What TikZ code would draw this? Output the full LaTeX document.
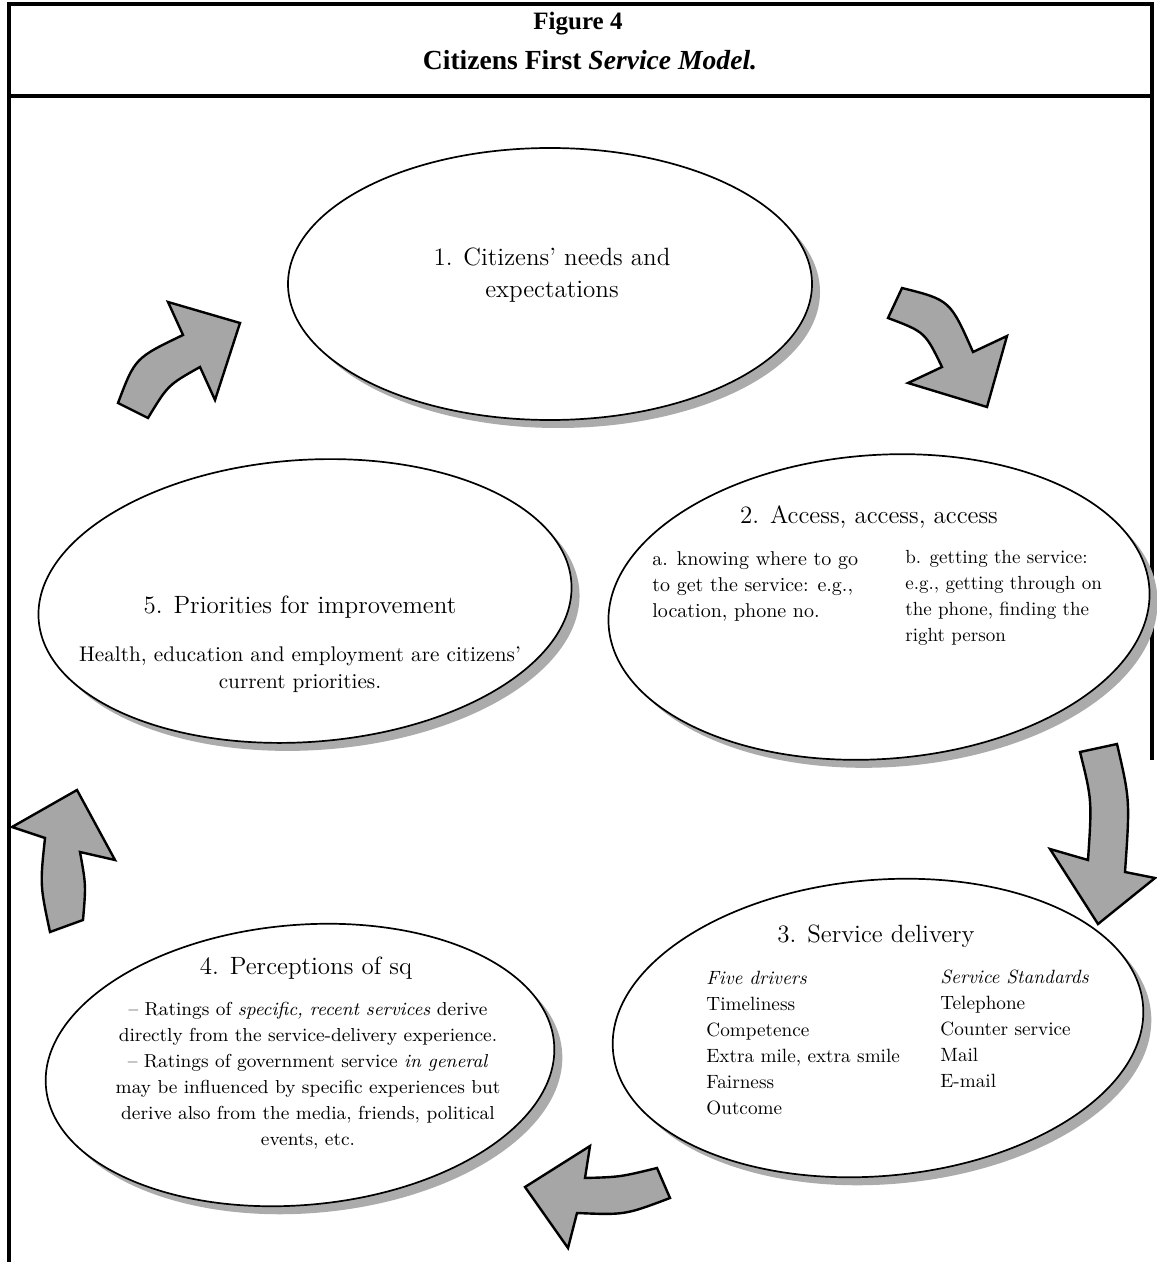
\documentclass[tikz,border=0pt]{standalone}
\usepackage{fontspec}
\newfontfamily\headfont{Liberation Serif}
\usepackage{tikz}
\usetikzlibrary{shapes}
\tikzset{
	stage/.style = {ellipse, draw=black, line width=0.85pt, fill=white,
		inner sep=0pt},% white ellipse of one stage
	stageshadow/.style = {ellipse, draw=none, fill=black!33, inner sep=0pt},% grey shadow
	stagetitle/.style = {inner sep=0pt, font=\fontsize{12.5}{16}\selectfont},
	stagetext/.style = {inner sep=0pt, align=left,
		font=\fontsize{10}{13}\selectfont},
	headtext/.style = {inner sep=0pt, font=\headfont\fontsize{12.5}{15}\selectfont\bfseries},
	bigarrow/.style = {fill=black!35, draw=black, line width=1.2pt,
		line join=miter},% fat grey arrow
	frame/.style = {line width=1.8pt}
}

\begin{document}
\begin{tikzpicture}[x=0.5pt,y=-0.5pt]
	\useasboundingbox (0,0) rectangle (1156,1262);
	\draw[frame] (9,1262) -- (9,4) -- (1152,4) -- (1152,760);
	\draw[frame] (9,96) -- (1152,96);
	\node[headtext] (fig) at (578,24) {Figure 4};
	\node[headtext, font=\headfont\fontsize{13.8}{16}\selectfont\bfseries] (caption) at (590,60) {Citizens First \textit{Service Model.}};

	\node[stageshadow, minimum width=262pt, minimum height=136pt] (s1) at (558,292) {};
	\node[stage, minimum width=262pt, minimum height=136pt] (e1) at (550,284) {};
	\node[stageshadow, rotate=4, minimum width=271pt, minimum height=152pt] (s2) at (887,615) {};
	\node[stage, rotate=4, minimum width=271pt, minimum height=152pt] (e2) at (879,607) {};
	\node[stageshadow, rotate=5, minimum width=266pt, minimum height=148pt] (s3) at (886,1036) {};
	\node[stage, rotate=5, minimum width=266pt, minimum height=148pt] (e3) at (878,1028) {};
	\node[stageshadow, rotate=5, minimum width=255pt, minimum height=140pt] (s4) at (308,1073) {};
	\node[stage, rotate=5, minimum width=255pt, minimum height=140pt] (e4) at (300,1065) {};
	\node[stageshadow, rotate=4, minimum width=267pt, minimum height=141pt] (s5) at (313,609) {};
	\node[stage, rotate=4, minimum width=267pt, minimum height=141pt] (e5) at (305,601) {};

	\node[stagetitle, align=center] (t1) at (552,275) {1. Citizens' needs and\\expectations};

	\node[stagetitle] (h2) at (869,517) {2. Access, access, access};
	\node[stagetext, anchor=north west] (a2) at (652,551) {a. knowing where to go\\to get the service: e.g.,\\location, phone no.};
	\node[stagetext, anchor=north west, font=\fontsize{9.5}{13}\selectfont] (b2) at (905,550) {b. getting the service:\\e.g., getting through on\\the phone, finding the\\right person};

	\node[stagetitle] (h3) at (876,936) {3. Service delivery};
	\node[stagetext, anchor=north west, font=\fontsize{9.6}{13}\selectfont] (d3) at (706,971) {\textit{Five drivers}\\Timeliness\\Competence\\Extra mile, extra smile\\Fairness\\Outcome};
	\node[stagetext, anchor=north west, font=\fontsize{9.6}{13}\selectfont] (n3) at (940,970) {\textit{Service Standards}\\Telephone\\Counter service\\Mail\\E-mail};

	\node[stagetitle] (h4) at (306,968) {4. Perceptions of sq};
	\node[stagetext, align=center, anchor=north, font=\fontsize{9.4}{13}\selectfont] (b4) at (308,1002) {-- Ratings of \textit{specific, recent services} derive\\directly from the service-delivery experience.\\-- Ratings of government service \textit{in general}\\may be influenced by specific experiences but\\derive also from the media, friends, political\\events, etc.};

	\node[stagetitle] (h5) at (300,607) {5. Priorities for improvement};
	\node[stagetext, align=center, anchor=north, font=\fontsize{10.6}{13.5}\selectfont] (b5) at (300,646) {Health, education and employment are citizens'\\current priorities.};

	\filldraw[bigarrow] (118,403) .. controls (135,358) .. (183,335) -- (168,302) -- (240,323) -- (215,400) -- (200,367) .. controls (168,385) .. (148,418) -- cycle;
	\filldraw[bigarrow] (902,288) .. controls (950,300) .. (973,352) -- (1007,336) -- (987,407) -- (908,383) -- (942,367) .. controls (925,332) .. (888,318) -- cycle;
	\filldraw[bigarrow] (1080,752) .. controls (1092,800) .. (1088,860) -- (1050,849) -- (1098,924) -- (1155,878) -- (1125,872) .. controls (1130,800) .. (1117,744) -- cycle;
	\filldraw[bigarrow] (657,1168) .. controls (620,1177) .. (585,1178) -- (590,1146) -- (525,1187) -- (568,1248) -- (577,1213) .. controls (625,1215) .. (670,1198) -- cycle;
	\filldraw[bigarrow] (77,790) -- (115,860) -- (80,852) .. controls (86,885) .. (83,920) -- (50,932) .. controls (40,885) .. (45,838) -- (12,827) -- cycle;
\end{tikzpicture}
\end{document}
